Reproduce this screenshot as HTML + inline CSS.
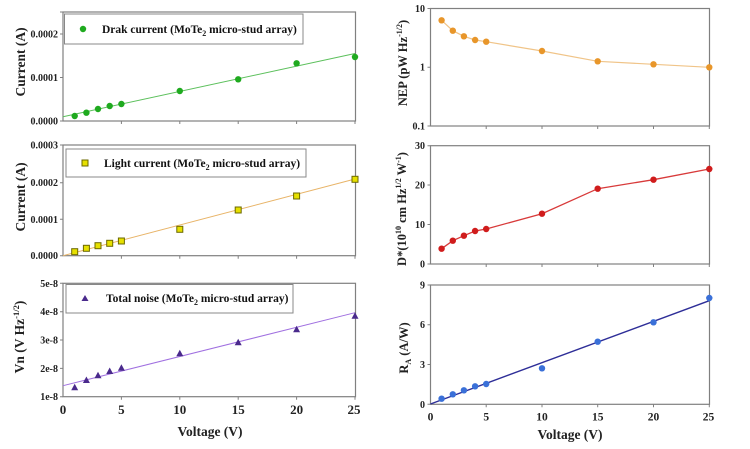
<!DOCTYPE html>
<html><head><meta charset="utf-8"><style>
html,body{margin:0;padding:0;background:#fff;}
svg{display:block;font-family:"Liberation Serif","Times New Roman",serif;font-weight:bold;}
</style></head><body>
<svg width="750" height="449" viewBox="0 0 750 449" xmlns="http://www.w3.org/2000/svg">
<rect width="750" height="449" fill="#fff"/>
<g fill="none" stroke="#808080" stroke-width="1.2">
<rect x="63" y="12" width="292.5" height="109"/>
<rect x="63" y="145" width="292.5" height="110.7"/>
<rect x="63" y="283.3" width="292.5" height="113.4"/>
<rect x="430.5" y="8.5" width="279" height="117.5"/>
<rect x="430.5" y="145.7" width="279" height="118.3"/>
<rect x="430.5" y="285" width="279" height="119.3"/>
</g>
<g stroke="#808080" stroke-width="1">
<!-- left x ticks -->
<path d="M121.4 121v3M179.8 121v3M238.2 121v3M296.6 121v3M355 121v3"/>
<path d="M121.4 255.7v3M179.8 255.7v3M238.2 255.7v3M296.6 255.7v3M355 255.7v3"/>
<path d="M121.4 396.7v3M179.8 396.7v3M238.2 396.7v3M296.6 396.7v3M355 396.7v3"/>
<!-- left y ticks -->
<path d="M60 12h3M60 34h3M60 77.5h3M60 121h3"/>
<path d="M60 145h3M60 182.7h3M60 219.3h3M60 255.7h3"/>
<path d="M60 283.3h3M60 311.7h3M60 340h3M60 368.4h3M60 396.7h3"/>
<!-- right x ticks -->
<path d="M486.2 126v3M542 126v3M597.7 126v3M653.5 126v3M709.3 126v3"/>
<path d="M486.2 264v3M542 264v3M597.7 264v3M653.5 264v3M709.3 264v3"/>
<path d="M486.2 404.3v3M542 404.3v3M597.7 404.3v3M653.5 404.3v3M709.3 404.3v3"/>
<!-- right y ticks -->
<path d="M427.5 8.5h3M427.5 67.2h3M427.5 126h3"/>
<path d="M427.5 145.7h3M427.5 185h3M427.5 224.5h3M427.5 264h3"/>
<path d="M427.5 285h3M427.5 324.7h3M427.5 364.5h3M427.5 404.3h3"/>
</g>

<!-- legends -->
<g fill="#fff" stroke="#888" stroke-width="1">
<rect x="64.5" y="14" width="238.5" height="30"/>
<rect x="66" y="149" width="240" height="28"/>
<rect x="66" y="284.5" width="227" height="28.5"/>
</g>
<g font-size="11.5" fill="#111">
<circle cx="83" cy="29" r="3.2" fill="#1faa1f"/>
<text x="102" y="33">Drak current (MoTe<tspan dy="3" font-size="8">2</tspan><tspan dy="-3"> micro-stud array)</tspan></text>
<rect x="82" y="160" width="6" height="6" fill="#e6e000" stroke="#6b6800" stroke-width="1"/>
<text x="104" y="167">Light current (MoTe<tspan dy="3" font-size="8">2</tspan><tspan dy="-3"> micro-stud array)</tspan></text>
<polygon points="81.5,301 88.5,301 85,295" fill="#4a2a8c"/>
<text x="106" y="302">Total noise (MoTe<tspan dy="3" font-size="8">2</tspan><tspan dy="-3"> micro-stud array)</tspan></text>
</g>

<!-- Panel 1 -->
<line x1="63" y1="116.7" x2="355" y2="53.5" stroke="#5cc05c" stroke-width="1"/>
<g fill="#1faa1f">
<circle cx="74.7" cy="116" r="3.2"/><circle cx="86.4" cy="112.7" r="3.2"/><circle cx="98" cy="109" r="3.2"/>
<circle cx="109.7" cy="106" r="3.2"/><circle cx="121.4" cy="104" r="3.2"/><circle cx="179.8" cy="91" r="3.2"/>
<circle cx="238.2" cy="79.3" r="3.2"/><circle cx="296.6" cy="63.3" r="3.2"/><circle cx="355" cy="57" r="3.2"/>
</g>
<!-- Panel 2 -->
<line x1="63" y1="255.7" x2="355" y2="179" stroke="#e8b468" stroke-width="1"/>
<g fill="#e6e000" stroke="#6b6800" stroke-width="1">
<rect x="71.7" y="248.7" width="6" height="6"/><rect x="83.4" y="245.3" width="6" height="6"/><rect x="95" y="242.7" width="6" height="6"/>
<rect x="106.7" y="240.3" width="6" height="6"/><rect x="118.4" y="238" width="6" height="6"/><rect x="176.8" y="226.3" width="6" height="6"/>
<rect x="235.2" y="207" width="6" height="6"/><rect x="293.6" y="193" width="6" height="6"/><rect x="352" y="176.3" width="6" height="6"/>
</g>
<!-- Panel 3 -->
<line x1="63" y1="385.7" x2="355" y2="312.7" stroke="#a070e0" stroke-width="1"/>
<g fill="#4a2a8c">
<polygon points="71.2,390.3 78.2,390.3 74.7,383.8"/>
<polygon points="82.9,383 89.9,383 86.4,376.5"/>
<polygon points="94.5,378.3 101.5,378.3 98,371.8"/>
<polygon points="106.2,374 113.2,374 109.7,367.5"/>
<polygon points="117.9,370.7 124.9,370.7 121.4,364.2"/>
<polygon points="176.3,356.3 183.3,356.3 179.8,349.8"/>
<polygon points="234.7,345.3 241.7,345.3 238.2,338.8"/>
<polygon points="293.1,332.3 300.1,332.3 296.6,325.8"/>
<polygon points="351.5,318.7 358.5,318.7 355,312.2"/>
</g>

<!-- NEP -->
<polyline points="441.6,20.3 452.8,30.7 463.9,36.3 475.1,40 486.2,41.7 542,51 597.7,61.3 653.5,64.3 709.3,67.3" fill="none" stroke="#f0c488" stroke-width="1.2"/>
<g fill="#e8962a">
<circle cx="441.6" cy="20.3" r="3.2"/><circle cx="452.8" cy="30.7" r="3.2"/><circle cx="463.9" cy="36.3" r="3.2"/>
<circle cx="475.1" cy="40" r="3.2"/><circle cx="486.2" cy="41.7" r="3.2"/><circle cx="542" cy="51" r="3.2"/>
<circle cx="597.7" cy="61.3" r="3.2"/><circle cx="653.5" cy="64.3" r="3.2"/><circle cx="709.3" cy="67.3" r="3.2"/>
</g>
<!-- D* -->
<polyline points="441.6,248.7 452.8,240.7 463.9,235.7 475.1,231 486.2,229 542,213.7 597.7,188.7 653.5,179.7 709.3,169" fill="none" stroke="#d83a3a" stroke-width="1.3"/>
<g fill="#d01c1c">
<circle cx="441.6" cy="248.7" r="3.2"/><circle cx="452.8" cy="240.7" r="3.2"/><circle cx="463.9" cy="235.7" r="3.2"/>
<circle cx="475.1" cy="231" r="3.2"/><circle cx="486.2" cy="229" r="3.2"/><circle cx="542" cy="213.7" r="3.2"/>
<circle cx="597.7" cy="188.7" r="3.2"/><circle cx="653.5" cy="179.7" r="3.2"/><circle cx="709.3" cy="169" r="3.2"/>
</g>
<!-- RA -->
<line x1="430.5" y1="404" x2="709.3" y2="300.7" stroke="#2e2e98" stroke-width="1.4"/>
<g fill="#3a70d8">
<circle cx="441.6" cy="398.7" r="3.2"/><circle cx="452.8" cy="394.3" r="3.2"/><circle cx="463.9" cy="390.3" r="3.2"/>
<circle cx="475.1" cy="386.3" r="3.2"/><circle cx="486.2" cy="384" r="3.2"/><circle cx="542" cy="368.3" r="3.2"/>
<circle cx="597.7" cy="341.7" r="3.2"/><circle cx="653.5" cy="322.3" r="3.2"/><circle cx="709.3" cy="298" r="3.2"/>
</g>

<!-- y tick labels left -->
<g font-size="10" fill="#222" text-anchor="end">
<text x="58" y="37.5">0.0002</text><text x="58" y="81">0.0001</text><text x="58" y="124.5">0.0000</text>
<text x="58" y="148.5">0.0003</text><text x="58" y="186.2">0.0002</text><text x="58" y="222.8">0.0001</text><text x="58" y="259.2">0.0000</text>
<text x="58" y="286.8">5e-8</text><text x="58" y="315.2">4e-8</text><text x="58" y="343.5">3e-8</text><text x="58" y="371.9">2e-8</text><text x="58" y="400.2">1e-8</text>
</g>
<!-- y tick labels right -->
<g font-size="10" fill="#222" text-anchor="end">
<text x="425" y="12">10</text><text x="425" y="70.7">1</text><text x="425" y="129.5">0.1</text>
<text x="425" y="149.2">30</text><text x="425" y="188.5">20</text><text x="425" y="228">10</text><text x="425" y="267.5">0</text>
<text x="425" y="288.5">9</text><text x="425" y="328.2">6</text><text x="425" y="368">3</text><text x="425" y="407.8">0</text>
</g>
<!-- x tick labels -->
<g font-size="13" fill="#222" text-anchor="middle">
<text x="63" y="414">0</text><text x="121.4" y="414">5</text><text x="179.8" y="414">10</text>
<text x="238.2" y="414">15</text><text x="296.6" y="414">20</text><text x="354" y="414">25</text>
</g>
<g font-size="11.5" fill="#222" text-anchor="middle">
<text x="430.5" y="420.5">0</text><text x="486.2" y="420.5">5</text><text x="542" y="420.5">10</text>
<text x="597.7" y="420.5">15</text><text x="653.5" y="420.5">20</text><text x="708.5" y="420.5">25</text>
</g>
<g font-size="13.5" fill="#222" text-anchor="middle">
<text x="210" y="436">Voltage (V)</text>
<text x="570" y="439">Voltage (V)</text>
</g>

<!-- y axis titles -->
<g font-size="13.5" fill="#222" text-anchor="middle">
<text transform="translate(25,62) rotate(-90)">Current (A)</text>
<text transform="translate(25,197) rotate(-90)">Current (A)</text>
<text transform="translate(24,337) rotate(-90)">Vn (V Hz<tspan dy="-5" font-size="8.5">-1/2</tspan><tspan dy="5">)</tspan></text>
</g>
<g font-size="12.5" fill="#222" text-anchor="middle">
<text transform="translate(407,63) rotate(-90)">NEP (pW Hz<tspan dy="-5" font-size="8">-1/2</tspan><tspan dy="5">)</tspan></text>
<text transform="translate(406,209) rotate(-90)">D*(10<tspan dy="-5" font-size="8">10</tspan><tspan dy="5"> cm Hz</tspan><tspan dy="-5" font-size="8">1/2</tspan><tspan dy="5"> W</tspan><tspan dy="-5" font-size="8">-1</tspan><tspan dy="5">)</tspan></text>
<text transform="translate(408,348) rotate(-90)">R<tspan dy="3" font-size="8">A</tspan><tspan dy="-3"> (A/W)</tspan></text>
</g>
</svg>
</body></html>
